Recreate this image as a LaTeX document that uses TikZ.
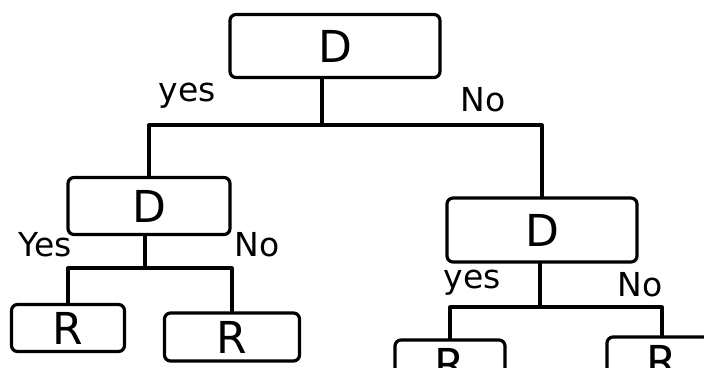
\documentclass[tikz,border=0pt]{standalone}
\usepackage{fontspec}
\setmainfont{DejaVu Sans}
\begin{document}
\begin{tikzpicture}[x=1pt,y=-1pt,line width=3.2pt,line join=round,line cap=round,
  box/.style={draw,rounded corners=6pt,inner sep=0pt,font=\fontsize{44}{44}\selectfont},
  lbl/.style={font=\fontsize{33}{33}\selectfont,inner sep=0pt}]
\useasboundingbox (0,0) rectangle (704,367);
\clip (0,0) rectangle (704,367);
\node[box,minimum width=210pt,minimum height=63pt] (root) at (335,46) {D};
\node[box,minimum width=162pt,minimum height=57pt] (d1) at (149,206) {D};
\node[box,minimum width=190pt,minimum height=64pt] (d2) at (542,230) {D};
\node[box,minimum width=113pt,minimum height=47pt] (r1) at (68,328) {R};
\node[box,minimum width=135pt,minimum height=48pt] (r2) at (232,337) {R};
\node[box,minimum width=110pt,minimum height=48pt] (r3) at (450,364) {R};
\node[box,minimum width=110pt,minimum height=48pt] (r4) at (662,361) {R};
\coordinate (b0) at (322,125);
\coordinate (b1) at (145,268);
\coordinate (b2) at (540,307);
\draw (root.south -| b0) -- (b0);
\draw (d1.north) |- (b0) -| (d2.north);
\draw (d1.south -| b1) -- (b1);
\draw (r1.north) |- (b1) -| (r2.north);
\draw (d2.south -| b2) -- (b2);
\draw (r3.north) |- (b2) -| (r4.north);
\node[lbl] (y0) at (187,96) {yes};
\node[lbl] (n0) at (483,100) {No};
\node[lbl] (y1) at (45,245) {Yes};
\node[lbl] (n1) at (257,245) {No};
\node[lbl] (y2) at (472,283) {yes};
\node[lbl] (n2) at (640,285) {No};
\end{tikzpicture}
\end{document}
